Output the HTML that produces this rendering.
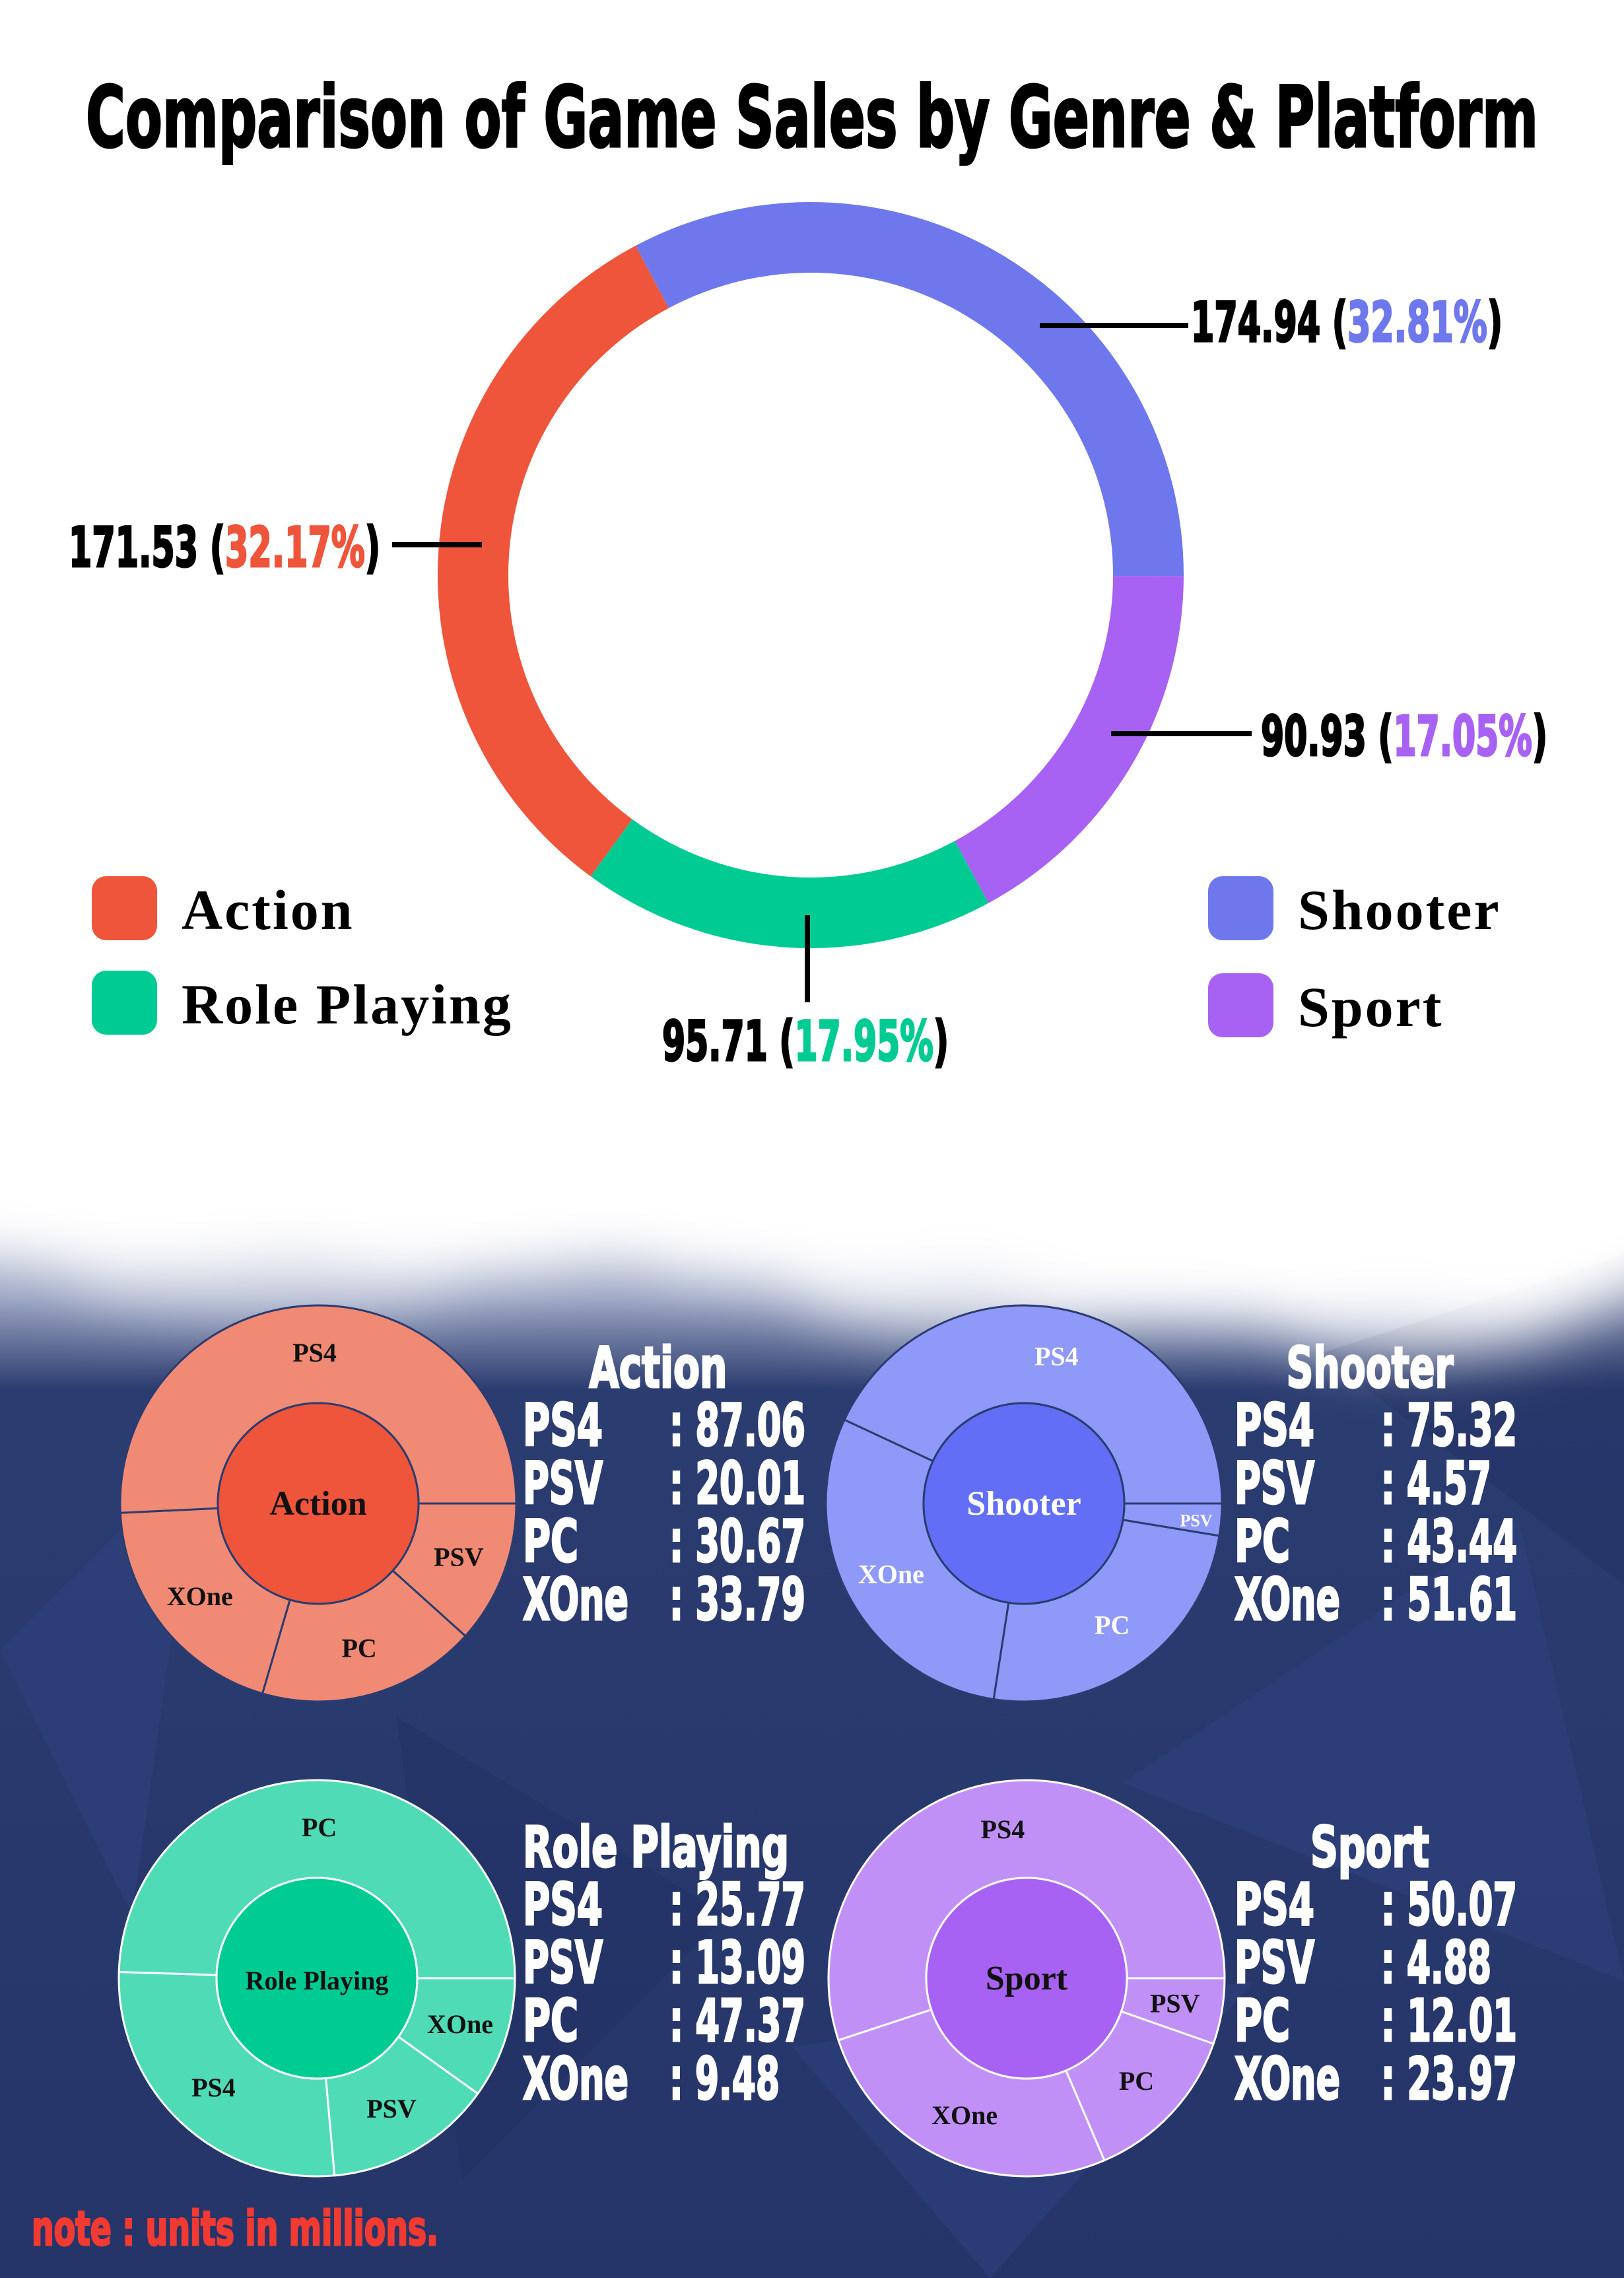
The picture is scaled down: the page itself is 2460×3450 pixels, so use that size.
<!DOCTYPE html>
<html><head><meta charset="utf-8"><style>
html,body{margin:0;padding:0;background:#fff}
svg{display:block}
.h{font-family:"DejaVu Sans Condensed","DejaVu Sans","Liberation Sans",sans-serif;font-weight:bold;stroke-width:3;paint-order:stroke}
.s{font-family:"Liberation Serif","DejaVu Serif",serif;font-weight:bold}
</style></head><body>
<svg id="page" xmlns="http://www.w3.org/2000/svg" width="2460" height="3450" viewBox="0 0 2460 3450">
<defs>
<filter id="blur" x="-50%" y="-50%" width="200%" height="200%"><feGaussianBlur stdDeviation="45"/></filter>
<linearGradient id="bg" x1="0" y1="0" x2="0" y2="1">
<stop offset="0" stop-color="#ffffff"/><stop offset="0.52" stop-color="#ffffff"/>
<stop offset="0.57" stop-color="#9aa4c2"/><stop offset="0.61" stop-color="#2b3c70"/>
<stop offset="1" stop-color="#25356a"/></linearGradient>
</defs>
<rect width="2460" height="3450" fill="url(#bg)"/>
<g opacity="0.35">
<polygon points="0,2500 300,2200 200,2900" fill="#34488a"/>
<polygon points="1700,2700 2300,2300 2460,3000" fill="#34488a"/>
<polygon points="600,2600 1100,2900 700,3300" fill="#1f2d5e"/>
<polygon points="1200,3100 1900,3000 1500,3450" fill="#34488a"/>
<polygon points="2000,2050 2460,1900 2460,2400" fill="#1f2d5e"/>
</g>
<g filter="url(#blur)" fill="#fff">
<ellipse cx="200" cy="1780" rx="400" ry="130"/><ellipse cx="700" cy="1800" rx="350" ry="120"/>
<ellipse cx="1250" cy="1800" rx="420" ry="140"/><ellipse cx="1850" cy="1830" rx="420" ry="170"/>
<ellipse cx="2300" cy="1800" rx="300" ry="200"/><ellipse cx="1500" cy="1950" rx="300" ry="70" opacity="0.7"/>
<ellipse cx="2150" cy="1970" rx="250" ry="80" opacity="0.8"/><ellipse cx="400" cy="1930" rx="300" ry="60" opacity="0.5"/>
</g>
<text class="h" x="1230" y="222" font-size="128" text-anchor="middle" textLength="2200" lengthAdjust="spacingAndGlyphs" fill="#000" stroke="#000">Comparison of Game Sales by Genre &amp; Platform</text>
<g id="donut"></g>
<g id="callouts"></g>
<g id="legend"></g>
<g id="subs"></g>
<text class="h" x="48" y="3400" font-size="72" fill="#f03a32" stroke="#f03a32" textLength="616" lengthAdjust="spacingAndGlyphs">note : units in millions.</text>
</svg>
<script>
const NS='http://www.w3.org/2000/svg';
const genres=['Shooter','Sport','Role Playing','Action'];
const genreTotals=[174.94,90.93,95.71,171.53];
const genrePcts=['32.81%','17.05%','17.95%','32.17%'];
const genreColors=['#6e78ec','#a862f3','#00cb92','#ee553b'];
const platforms=['PS4','PSV','PC','XOne'];
const actionVals=[87.06,20.01,30.67,33.79];
const shooterVals=[75.32,4.57,43.44,51.61];
const rpVals=[25.77,13.09,47.37,9.48];
const sportVals=[50.07,4.88,12.01,23.97];

function el(tag,attrs,parent){const e=document.createElementNS(NS,tag);for(const k in attrs)e.setAttribute(k,attrs[k]);parent.appendChild(e);return e;}
function fit(t,w){t.setAttribute('textLength',w);t.setAttribute('lengthAdjust','spacingAndGlyphs');}
function strW(s,dig,dot,colon){let w=0;for(const ch of s){if(ch==='.')w+=dot;else if(ch===':')w+=colon;else if(ch===' ')w+=0;else w+=dig;}return w;}
function pt(cx,cy,r,a){const t=(a-90)*Math.PI/180;return [cx+r*Math.cos(t),cy+r*Math.sin(t)];}
function arc(cx,cy,r0,r1,a0,a1){const l=(a1-a0)>180?1:0;const p1=pt(cx,cy,r1,a0),p2=pt(cx,cy,r1,a1),p3=pt(cx,cy,r0,a1),p4=pt(cx,cy,r0,a0);
return `M${p1}A${r1},${r1} 0 ${l} 1 ${p2}L${p3}A${r0},${r0} 0 ${l} 0 ${p4}Z`;}

// main donut
const donut=document.getElementById('donut');
const DCX=1228,DCY=871,DR0=458,DR1=565;
const gsum=genreTotals.reduce((a,b)=>a+b,0);
let ang=-28;
genres.forEach((g,i)=>{const sweep=genreTotals[i]/gsum*360;
 const p=el('path',{d:arc(DCX,DCY,DR0,DR1,ang,ang+sweep),fill:genreColors[i]},donut);
 
 
 ang+=sweep;});

// callouts
const co=document.getElementById('callouts');
const callPos=[[1575,493,1800,493,1804,517,'start'],[1683,1111,1896,1111,1910,1144,'start'],[1223,1386,1223,1518,1003,1606,'start'],[730,825,594,825,576,858,'end']];
genres.forEach((g,i)=>{const c=callPos[i];
 const l=el('line',{x1:c[0],y1:c[1],x2:c[2],y2:c[3],stroke:'#000','stroke-width':8},co);
 
 
 const t=el('text',{x:c[4],y:c[5],'text-anchor':c[6],class:'h','font-size':84,fill:'#000',stroke:'#000'},co);
 
 
 const num=genreTotals[i].toFixed(2);
 t.textContent=num+' (';
 const sp=el('tspan',{fill:genreColors[i],stroke:genreColors[i]},t);sp.textContent=genrePcts[i];
 const sp2=el('tspan',{},t);sp2.textContent=')';
 fit(t, strW(num,38,16,0)+20+strW(genrePcts[i].replace('%',''),38,16,0)+50+28);});

// legend
const lg=document.getElementById('legend');
const legPos=[[1830,1327],[1830,1474],[139,1470],[139,1327]];
genres.forEach((g,i)=>{const p=legPos[i];
 const r=el('rect',{x:p[0],y:p[1],width:99,height:97,rx:22,fill:genreColors[i]},lg);
 
 
 const t=el('text',{x:p[0]+136,y:p[1]+80,class:'s','font-size':86,fill:'#000','letter-spacing':3},lg);
 
 
 t.textContent=g;});

// sunbursts
const subs=document.getElementById('subs');
const platW={PS4:121,PSV:121,PC:84,XOne:160};
const titleW={'Action':209,'Shooter':253,'Role Playing':403,'Sport':180};
const subCfg=[
 {name:'Action',vals:actionVals,cx:482,cy:2277,outer:'#f08a74',inner:'#ee553b',line:'#2b3c70',txt:'#111',tx:792,ty:2101,titleX:997,anchor:'middle'},
 {name:'Shooter',vals:shooterVals,cx:1551,cy:2277,outer:'#8f99f8',inner:'#636ef7',line:'#2b3c70',txt:'#fff',tx:1870,ty:2101,titleX:2075,anchor:'middle'},
 {name:'Role Playing',vals:rpVals,cx:480,cy:2996,outer:'#4fdbb6',inner:'#00cb92',line:'#ffffff',txt:'#111',tx:792,ty:2827,titleX:792,anchor:'start'},
 {name:'Sport',vals:sportVals,cx:1555,cy:2996,outer:'#c090f7',inner:'#a862f3',line:'#ffffff',txt:'#111',tx:1870,ty:2827,titleX:2075,anchor:'middle'}];
const R0=152,R1=300;
subCfg.forEach(c=>{
 const key=c.name.toLowerCase().replace(' ','-');
 const g=el('g',{},subs);
 
 
 const tot=c.vals.reduce((a,b)=>a+b,0);
 const idx=[0,1,2,3].sort((a,b)=>c.vals[a]-c.vals[b]);
 let a=90;
 idx.forEach(k=>{const sw=c.vals[k]/tot*360;
  const p=el('path',{d:arc(c.cx,c.cy,R0,R1,a,a+sw),fill:c.outer,stroke:c.line,'stroke-width':3},g);
  
  
  const small=sw<15;
  const lp=pt(c.cx,c.cy,small?262:228,a+sw/2);
  const t=el('text',{x:lp[0],y:lp[1]+13,'text-anchor':'middle',class:'s','font-size':small?26:40,fill:c.txt},g);
  
  
  t.textContent=platforms[k];
  a+=sw;});
 const ci=el('circle',{cx:c.cx,cy:c.cy,r:R0,fill:c.inner,stroke:c.line,'stroke-width':3},g);
 
 
 const ct=el('text',{x:c.cx,y:c.cy+17,'text-anchor':'middle',class:'s','font-size':c.name.length>8?40:52,fill:c.txt},g);
 
 
 ct.textContent=c.name;
 const tt=el('text',{x:c.titleX,y:c.ty,'text-anchor':c.anchor,class:'h','font-size':86,fill:'#fff',stroke:'#fff'},g);
 
 
 tt.textContent=c.name;
 fit(tt,titleW[c.name]);
 platforms.forEach((pl,k)=>{
  const y=c.ty+88*(k+1);
  const lt=el('text',{x:c.tx,y:y,class:'h','font-size':88,fill:'#fff',stroke:'#fff'},g);
  
  
  lt.textContent=pl;
  fit(lt,platW[pl]);
  const s=': '+c.vals[k].toFixed(2);
  const vt=el('text',{x:c.tx+222,y:y,class:'h','font-size':88,fill:'#fff',stroke:'#fff'},g);
  
  
  vt.textContent=s;
  fit(vt,strW(s,39,18,22)+10);
 });
});
</script>
</body></html>
